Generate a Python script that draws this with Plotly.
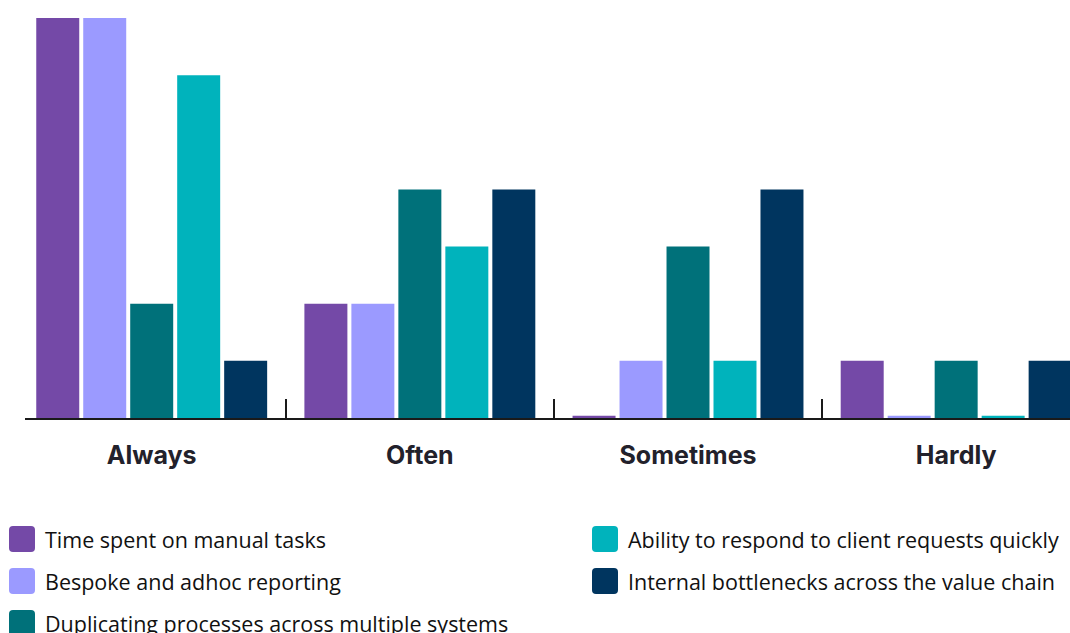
import plotly.graph_objects as go

categories = ["Always", "Often", "Sometimes", "Hardly"]
series_names = [
    "Time spent on manual tasks",
    "Bespoke and adhoc reporting",
    "Duplicating processes across multiple systems",
    "Ability to respond to client requests quickly",
    "Internal bottlenecks across the value chain",
]
time_spent = [7, 2, 0.04, 1]
bespoke = [7, 2, 1, 0.04]
duplicating = [2, 4, 3, 1]
ability = [6, 3, 1, 0.04]
internal = [1, 4, 4, 1]
series_values = [time_spent, bespoke, duplicating, ability, internal]
colors = ["#7449A7", "#9B9AFF", "#00717A", "#00B3BC", "#00355F"]

W, H = 1070, 633
ML, MR, MT, MB = 25, 0, 18, 215
PW, PH = W - ML - MR, H - MT - MB

fig = go.Figure()
for name, vals, col in zip(series_names, series_values, colors):
    fig.add_trace(go.Bar(x=categories, y=vals, name=name, marker_color=col,
                         marker_line_width=0, showlegend=False))

# custom legend (two columns, large rounded swatches)
def px_to_paper(px, py):
    return (px - ML) / PW, (H - MB - py) / PH

shapes = []
annotations = []
sq = 13
r = 4
path = (f"M {-sq},{-sq + r} Q {-sq},{-sq} {-sq + r},{-sq} L {sq - r},{-sq} "
        f"Q {sq},{-sq} {sq},{-sq + r} L {sq},{sq - r} Q {sq},{sq} {sq - r},{sq} "
        f"L {-sq + r},{sq} Q {-sq},{sq} {-sq},{sq - r} Z")
col_x = [22, 605]
row_y0, row_dy = 539, 42
for i, (name, col) in enumerate(zip(series_names, colors)):
    c = 0 if i < 3 else 1
    rrow = i if i < 3 else i - 3
    cx, cy = col_x[c], row_y0 + rrow * row_dy
    ax, ay = px_to_paper(cx, cy)
    shapes.append(dict(type="path", xref="paper", yref="paper",
                       xsizemode="pixel", ysizemode="pixel",
                       xanchor=ax, yanchor=ay, path=path,
                       fillcolor=col, line=dict(width=0)))
    tx, ty = px_to_paper(cx + 21, cy)
    annotations.append(dict(xref="paper", yref="paper", x=tx, y=ty,
                            xanchor="left", yanchor="middle", showarrow=False,
                            text=name, font=dict(family="Open Sans", size=21.5, color="#111111")))

fig.update_layout(
    width=W, height=H,
    margin=dict(l=ML, r=MR, t=MT, b=MB),
    paper_bgcolor="white", plot_bgcolor="white",
    barmode="group", bargap=0.124, bargroupgap=0.085,
    shapes=shapes, annotations=annotations,
    xaxis=dict(range=[-0.4725, 3.4245], showgrid=False, zeroline=False,
               showline=True, linecolor="#1a1a1a", linewidth=1.5,
               ticks="inside", tickson="boundaries", ticklen=19, tickwidth=1.5,
               tickcolor="#1a1a1a",
               tickfont=dict(family="Inter", size=25, color="#22212b", weight="bold"),
               ticklabelstandoff=14),
    yaxis=dict(range=[0, 7], visible=False, showgrid=False, zeroline=False),
)

fig.write_html("out.html")
